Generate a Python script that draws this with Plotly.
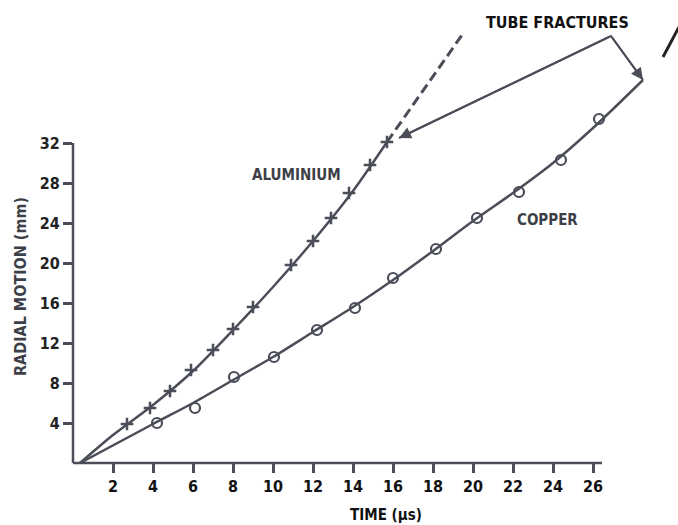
import plotly.graph_objects as go

# ---- data ----
al_time = [2.7, 3.85, 4.85, 5.9, 7.0, 8.0, 9.0, 10.9, 12.0, 12.9, 13.8, 14.85, 15.7]
al_motion = [3.9, 5.5, 7.2, 9.3, 11.3, 13.4, 15.6, 19.8, 22.2, 24.5, 27.0, 29.8, 32.1]
cu_time = [4.2, 6.1, 8.05, 10.05, 12.2, 14.1, 16.0, 18.15, 20.2, 22.3, 24.4, 26.3]
cu_motion = [4.0, 5.5, 8.6, 10.6, 13.3, 15.5, 18.5, 21.4, 24.5, 27.1, 30.3, 34.4]

# hand-drawn fitted curves (vertices)
al_curve_t = [0.35, 2, 4, 6, 8, 10, 12, 14, 15.7]
al_curve_r = [0, 2.8, 5.8, 9.2, 13.3, 17.6, 22.2, 27.2, 32.1]
cu_curve_t = [0.35, 4, 6, 8, 10, 12, 14, 16, 18, 20, 22, 24, 26, 28.5]
cu_curve_r = [0, 3.9, 6.0, 8.3, 10.6, 13.1, 15.6, 18.3, 21.2, 24.2, 27.0, 30.0, 33.5, 38.3]

# dashed extrapolations
al_extra_t = [15.7, 19.45]
al_extra_r = [32.1, 42.8]
cu_extra_t = [29.5, 30.3]
cu_extra_r = [40.6, 43.6]

# "tube fractures" pointer: aluminium end, corner, copper end
ptr_t = [16.3, 26.9, 28.5]
ptr_r = [32.5, 42.7, 38.3]

x_ticks = [2, 4, 6, 8, 10, 12, 14, 16, 18, 20, 22, 24, 26]
y_ticks = [4, 8, 12, 16, 20, 24, 28, 32]
x_axis_end = 26.45
y_axis_end = 32

X_RANGE = [0, 30.25]
Y_RANGE = [0, 46.3]

INK = "#4b4e58"
FONT = "DejaVu Sans Condensed, Liberation Sans Narrow, Arial Narrow, sans-serif"

fig = go.Figure()

fig.add_trace(go.Scatter(x=al_curve_t, y=al_curve_r, mode="lines",
                         line=dict(color=INK, width=2.5, shape="spline", smoothing=0.8),
                         hoverinfo="skip", showlegend=False))
fig.add_trace(go.Scatter(x=cu_curve_t, y=cu_curve_r, mode="lines",
                         line=dict(color=INK, width=2.5, shape="spline", smoothing=0.8),
                         hoverinfo="skip", showlegend=False))
fig.add_trace(go.Scatter(x=al_extra_t, y=al_extra_r, mode="lines",
                         line=dict(color=INK, width=3, dash="10px,5px"),
                         hoverinfo="skip", showlegend=False))
fig.add_trace(go.Scatter(x=cu_extra_t, y=cu_extra_r, mode="lines",
                         line=dict(color="#222222", width=3),
                         hoverinfo="skip", showlegend=False))
fig.add_trace(go.Scatter(x=al_time, y=al_motion, mode="markers", name="Aluminium",
                         marker=dict(symbol="cross-thin", size=9,
                                     line=dict(color=INK, width=2.5)),
                         showlegend=False, cliponaxis=False))
fig.add_trace(go.Scatter(x=cu_time, y=cu_motion, mode="markers", name="Copper",
                         marker=dict(symbol="circle-open", size=10, color=INK,
                                     line=dict(color=INK, width=2.2)),
                         showlegend=False, cliponaxis=False))
# pointer line (without heads)
fig.add_trace(go.Scatter(x=ptr_t, y=ptr_r, mode="lines",
                         line=dict(color=INK, width=2),
                         hoverinfo="skip", showlegend=False))

# arrow heads of the pointer
for i in (0, 2):
    fig.add_annotation(x=ptr_t[i], y=ptr_r[i], ax=ptr_t[1], ay=ptr_r[1],
                       xref="x", yref="y", axref="x", ayref="y", text="",
                       showarrow=True, arrowhead=2, arrowsize=1.2, arrowwidth=2,
                       arrowcolor=INK, standoff=0, startstandoff=0)

# axis lines
fig.add_shape(type="line", xref="paper", yref="paper",
              x0=0, y0=0, x1=(x_axis_end - X_RANGE[0]) / (X_RANGE[1] - X_RANGE[0]), y1=0,
              line=dict(color=INK, width=2.5))
fig.add_shape(type="line", xref="paper", yref="paper",
              x0=0, y0=0, x1=0, y1=(y_axis_end - Y_RANGE[0]) / (Y_RANGE[1] - Y_RANGE[0]),
              line=dict(color=INK, width=2.5))

# texts
fig.add_annotation(x=11.15, y=28.8, xref="x", yref="y", text="ALUMINIUM", showarrow=False,
                   font=dict(family=FONT, size=15, color="#3c3f48", weight="bold"))
fig.add_annotation(x=23.7, y=24.3, xref="x", yref="y", text="COPPER", showarrow=False,
                   font=dict(family=FONT, size=15, color="#3c3f48", weight="bold"))
fig.add_annotation(x=24.2, y=44.1, xref="x", yref="y", text="TUBE FRACTURES", showarrow=False,
                   font=dict(family=FONT, size=16, color="#111111", weight="bold"))
fig.add_annotation(x=0, y=17.6, xref="x", yref="y", xshift=-53, text="RADIAL MOTION (mm)",
                   textangle=-90, showarrow=False,
                   font=dict(family=FONT, size=16, color="#3c3f48", weight="bold"))
fig.add_annotation(x=15.65, y=0, xref="x", yref="y", yshift=-52, text="TIME (\u00b5s)",
                   showarrow=False,
                   font=dict(family=FONT, size=15, color="#111111", weight="bold"))

fig.update_xaxes(range=X_RANGE, showline=False, showgrid=False, zeroline=False,
                 tickmode="array", tickvals=x_ticks, ticktext=[str(v) for v in x_ticks],
                 ticks="outside", ticklen=9, tickwidth=2.5, tickcolor=INK,
                 tickfont=dict(family=FONT, size=16, color="#111111", weight="bold"))
fig.update_yaxes(range=Y_RANGE, showline=False, showgrid=False, zeroline=False,
                 tickmode="array", tickvals=y_ticks, ticktext=[str(v) for v in y_ticks],
                 ticks="outside", ticklen=9, tickwidth=2.5, tickcolor=INK,
                 tickfont=dict(family=FONT, size=16, color="#222222", weight="bold"))

fig.update_layout(width=678, height=525, margin=dict(l=73, r=0, t=0, b=62),
                  paper_bgcolor="white", plot_bgcolor="white", showlegend=False)

fig.write_html("out.html")
